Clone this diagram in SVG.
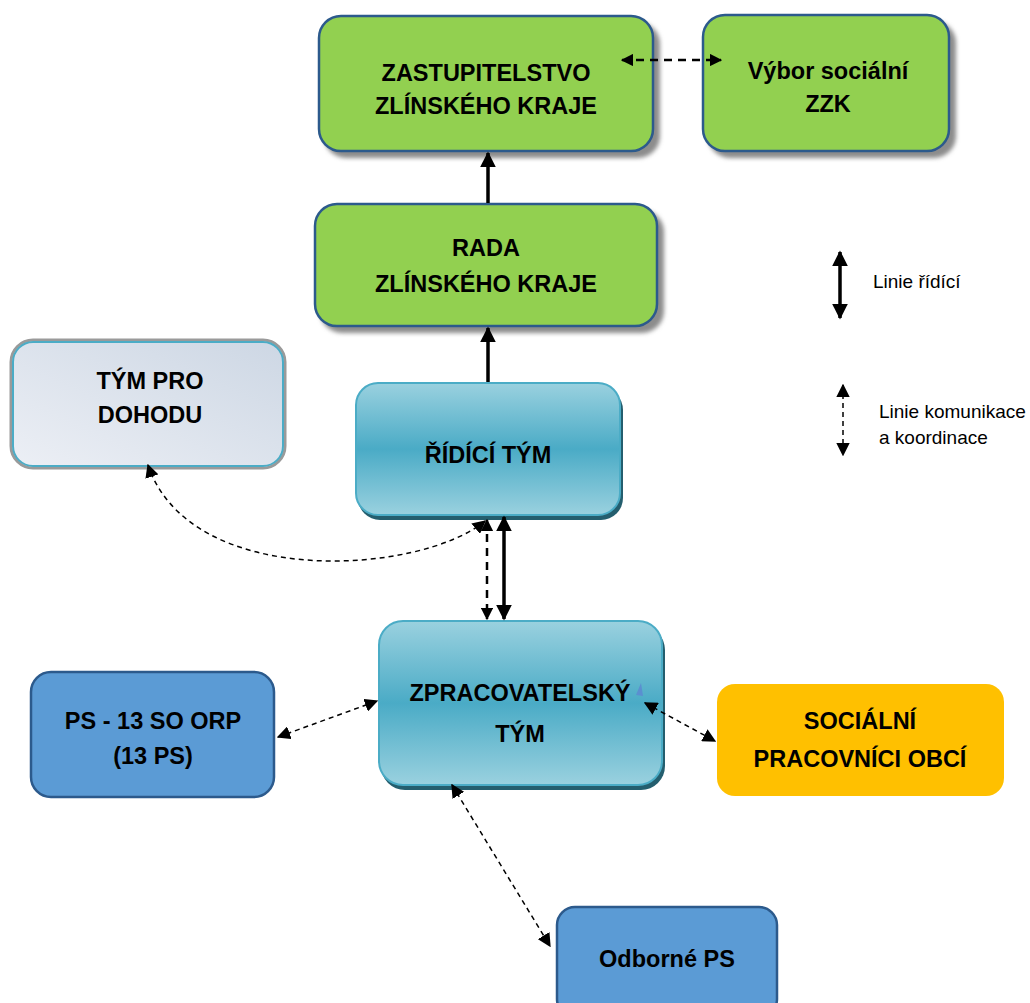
<svg xmlns="http://www.w3.org/2000/svg" width="1030" height="1003" viewBox="0 0 1030 1003">
<style>
.t{font-family:"Liberation Sans",Arial,sans-serif;font-weight:bold;font-size:23.5px;fill:#000;text-anchor:middle}
.lg{font-family:"Liberation Sans",Arial,sans-serif;font-size:19px;fill:#000}
.green{fill:#92d050;stroke:#2c5a8c;stroke-width:2.5}
.blue{fill:#5b9bd5;stroke:#2c5a8c;stroke-width:2.5}
.solid{stroke:#000;stroke-width:3.5;fill:none}
.dash{stroke:#000;stroke-width:2.5;fill:none;stroke-dasharray:8 6}
.dot{stroke:#000;stroke-width:1.5;fill:none;stroke-dasharray:5 4}
</style>
<defs>
<marker id="ah" viewBox="0 0 10 10" refX="9" refY="5" markerWidth="5" markerHeight="5" markerUnits="strokeWidth" orient="auto-start-reverse"><path d="M0,0L10,5L0,10z" fill="#000"/></marker>
<marker id="ahs" viewBox="0 0 10 10" refX="9" refY="5" markerWidth="4.5" markerHeight="4.5" markerUnits="strokeWidth" orient="auto-start-reverse"><path d="M0,0L10,5L0,10z" fill="#000"/></marker>
<marker id="ahd" viewBox="0 0 10 10" refX="9" refY="5" markerWidth="9" markerHeight="9" markerUnits="strokeWidth" orient="auto-start-reverse"><path d="M0,0L10,5L0,10z" fill="#000"/></marker>
<linearGradient id="teal" x1="0" y1="0" x2="0" y2="1">
<stop offset="0" stop-color="#9ad1df"/><stop offset="0.5" stop-color="#4aabc6"/><stop offset="1" stop-color="#9ad1df"/>
</linearGradient>
<linearGradient id="grey" x1="0" y1="1" x2="1" y2="0">
<stop offset="0" stop-color="#eceff5"/><stop offset="1" stop-color="#cdd7e4"/>
</linearGradient>
<filter id="sh" x="-10%" y="-10%" width="130%" height="130%"><feGaussianBlur stdDeviation="2"/></filter>
</defs>

<g id="zastupitelstvo">
<rect x="324" y="22" width="336" height="136" rx="22" fill="#8c8c8c" filter="url(#sh)"/>
<rect class="green" x="319" y="16" width="334" height="135" rx="22"/>
<text class="t" x="486" y="81">ZASTUPITELSTVO</text>
<text class="t" x="486" y="114">ZLÍNSKÉHO KRAJE</text>
</g>
<g id="vybor">
<rect x="708" y="21" width="248" height="137" rx="22" fill="#8c8c8c" filter="url(#sh)"/>
<rect class="green" x="703" y="15" width="246" height="136" rx="22"/>
<text class="t" x="828" y="79">Výbor sociální</text>
<text class="t" x="828" y="112">ZZK</text>
</g>
<g id="rada">
<rect x="320" y="210" width="344" height="123" rx="22" fill="#8c8c8c" filter="url(#sh)"/>
<rect class="green" x="315" y="204" width="342" height="122" rx="22"/>
<text class="t" x="486" y="256">RADA</text>
<text class="t" x="486" y="292">ZLÍNSKÉHO KRAJE</text>
</g>
<g id="tym-pro-dohodu">
<rect x="11" y="340" width="274" height="128" rx="22" fill="none" stroke="#9a9a9a" stroke-width="3"/>
<rect x="13" y="342" width="270" height="124" rx="20" fill="url(#grey)" stroke="#4bacc6" stroke-width="2"/>
<text class="t" x="150" y="389">TÝM PRO</text>
<text class="t" x="150" y="423">DOHODU</text>
</g>
<g id="ridici-tym">
<rect x="358" y="388" width="265" height="132" rx="22" fill="#245e6e"/>
<rect x="356" y="383" width="264" height="132" rx="22" fill="url(#teal)" stroke="#4bacc6" stroke-width="2"/>
<text class="t" x="488" y="463">ŘÍDÍCÍ TÝM</text>
</g>
<g id="zpracovatelsky-tym">
<rect x="381" y="626" width="284" height="164" rx="24" fill="#245e6e"/>
<rect x="379" y="621" width="283" height="164" rx="24" fill="url(#teal)" stroke="#4bacc6" stroke-width="2"/>
<text class="t" x="520" y="701">ZPRACOVATELSKÝ</text>
<text class="t" x="520" y="742">TÝM</text>
</g>
<g id="ps-13-so-orp">
<rect class="blue" x="31" y="672" width="243" height="125" rx="20"/>
<text class="t" x="153" y="729">PS - 13 SO ORP</text>
<text class="t" x="153" y="764">(13 PS)</text>
</g>
<g id="socialni-pracovnici">
<rect x="717" y="684" width="287" height="112" rx="18" fill="#ffc000"/>
<text class="t" x="860" y="729">SOCIÁLNÍ</text>
<text class="t" x="860" y="767">PRACOVNÍCI OBCÍ</text>
</g>
<g id="odborne-ps">
<rect class="blue" x="557" y="907" width="220" height="110" rx="18"/>
<text class="t" x="667" y="967">Odborné PS</text>
</g>
<g id="legend">
<line class="solid" x1="840" y1="252" x2="840" y2="318" marker-start="url(#ahs)" marker-end="url(#ahs)"/>
<text class="lg" x="873" y="288">Linie řídící</text>
<line class="dot" x1="843" y1="385" x2="843" y2="455" marker-start="url(#ahd)" marker-end="url(#ahd)"/>
<text class="lg" x="879" y="418">Linie komunikace</text>
<text class="lg" x="879" y="444">a koordinace</text>
</g>
<g id="connectors">
<line class="dash" x1="622" y1="60" x2="721" y2="60" marker-start="url(#ah)" marker-end="url(#ah)"/>
<line class="solid" x1="488" y1="203" x2="488" y2="153" marker-end="url(#ahs)"/>
<line class="solid" x1="488" y1="382" x2="488" y2="328" marker-end="url(#ahs)"/>
<path class="dot" d="M485,521 C420,575 190,590 148,465" marker-start="url(#ahd)" marker-end="url(#ahd)"/>
<line class="dash" x1="487" y1="520" x2="487" y2="619" marker-start="url(#ah)" marker-end="url(#ah)"/>
<line class="solid" x1="504" y1="517" x2="504" y2="619" marker-start="url(#ahs)" marker-end="url(#ahs)"/>
<line class="dot" x1="278" y1="737" x2="377" y2="701" marker-start="url(#ahd)" marker-end="url(#ahd)"/>
<line class="dot" x1="645" y1="703" x2="715" y2="741" marker-start="url(#ahd)" marker-end="url(#ahd)"/>
<line class="dot" x1="452" y1="785" x2="550" y2="946" marker-start="url(#ahd)" marker-end="url(#ahd)"/>
<polygon points="636,695 641,683 643,696" fill="#5b8fd0"/>
</g>
</svg>
